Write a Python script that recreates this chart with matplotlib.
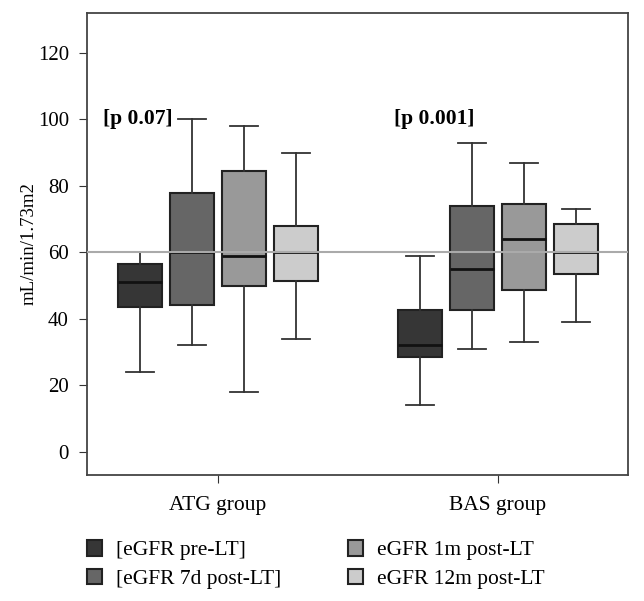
import matplotlib.pyplot as plt

plt.rcParams['font.family'] = ['Liberation Serif', 'DejaVu Serif']

# Data (mL/min/1.73m2)
groups = ['ATG group', 'BAS group']
series = ['[eGFR pre-LT]', '[eGFR 7d post-LT]', 'eGFR 1m post-LT', 'eGFR 12m post-LT']
colors = ['#363636', '#666666', '#999999', '#cccccc']

# per series: [ATG, BAS]
whislo = [[24, 14], [32, 31], [18, 33], [34, 39]]
q1 = [[43.5, 28.5], [44, 42.5], [50, 48.5], [51.5, 53.5]]
med = [[51, 32], [60, 55], [59, 64], [60, 60]]
q3 = [[56.5, 42.5], [78, 74], [84.5, 74.5], [68, 68.5]]
whishi = [[60, 59], [100, 93], [98, 87], [90, 73]]

p_labels = ['[p 0.07]', '[p 0.001]']
ref_line = 60

fig = plt.figure(figsize=(6.44, 6.01), dpi=100)
ax = fig.add_axes([0.135, 0.21, 0.84, 0.768])

offsets = [-0.279, -0.093, 0.093, 0.279]
handles = []
for s in range(len(series)):
    stats = []
    for g in range(len(groups)):
        stats.append(dict(whislo=whislo[s][g], q1=q1[s][g], med=med[s][g],
                          q3=q3[s][g], whishi=whishi[s][g], fliers=[]))
    pos = [g + offsets[s] for g in range(len(groups))]
    bp = ax.bxp(stats, positions=pos, widths=0.157, patch_artist=True,
                showfliers=False,
                boxprops=dict(facecolor=colors[s], edgecolor='#222222', linewidth=1.5),
                medianprops=dict(color='#111111', linewidth=2),
                whiskerprops=dict(color='#333333', linewidth=1.3),
                capprops=dict(color='#333333', linewidth=1.3),
                capwidths=0.1, manage_ticks=False)
    handles.append(bp['boxes'][0])

ax.axhline(ref_line, color='#aaaaaa', linewidth=1.5, zorder=5)

ax.text(-0.41, 100, p_labels[0], fontsize=15.5, fontweight='bold', va='center', ha='left')
ax.text(0.629, 100, p_labels[1], fontsize=15.5, fontweight='bold', va='center', ha='left')

ax.set_xlim(-0.468, 1.464)
ax.set_ylim(-7, 132)
ax.set_xticks([0, 1])
ax.set_xticklabels(groups, fontsize=15.5)
ax.set_yticks(range(0, 121, 20))
ax.tick_params(axis='y', labelsize=15, length=6, pad=7, color='#333333')
ax.tick_params(axis='x', length=6, color='#333333', pad=9)
ax.set_ylabel('mL/min/1.73m2', fontsize=13.5, labelpad=0)
for sp in ax.spines.values():
    sp.set_color('#444444')
    sp.set_linewidth(1.3)

fig.legend(handles, series, ncol=2, loc='upper left', bbox_to_anchor=(0.135, 0.101),
           frameon=False, fontsize=15.5, handlelength=0.72, handleheight=0.72,
           handletextpad=0.62, columnspacing=3.1, labelspacing=0.4,
           borderpad=0, borderaxespad=0)

fig.savefig('out.png', dpi=100)
